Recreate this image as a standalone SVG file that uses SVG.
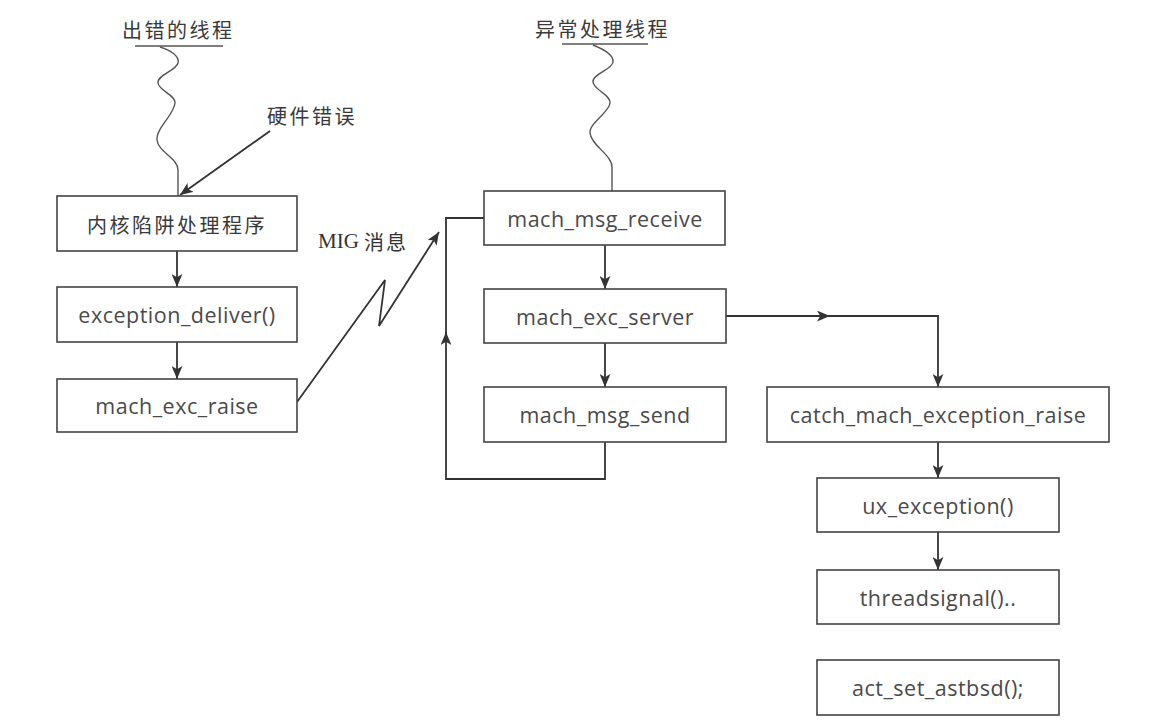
<svg xmlns="http://www.w3.org/2000/svg" width="1156" height="724" viewBox="0 0 1156 724">
<style>
.box{fill:#fff;stroke:#444;stroke-width:1.6}
.lbl{font-family:"Open Sans","Liberation Sans",sans-serif;font-size:21.5px;letter-spacing:0.5px;fill:#4a4a4a;text-anchor:middle;dominant-baseline:central}
.cjk{font-family:"Noto Sans CJK SC","Noto Sans",sans-serif;font-size:20px;fill:#3a3a3a;letter-spacing:2.5px;dominant-baseline:central}
.ln{fill:none;stroke:#333;stroke-width:1.8}
.wave{fill:none;stroke:#555;stroke-width:1.4}
</style>
<defs>
<marker id="ah" viewBox="0 0 12 10" refX="12" refY="5" markerWidth="13" markerHeight="11" markerUnits="userSpaceOnUse" orient="auto">
<path d="M0,0 L12,5 L0,10 L3,5 z" fill="#333"/>
</marker>
</defs>
<rect width="1156" height="724" fill="#fff"/>

<g id="title-left">
<text class="cjk" x="122" y="29">出错的线程</text>
<line x1="135" y1="46" x2="223" y2="46" stroke="#555" stroke-width="1.4"/>
</g>
<g id="title-right">
<text class="cjk" x="535" y="28">异常处理线程</text>
<line x1="562" y1="44" x2="648" y2="44" stroke="#555" stroke-width="1.4"/>
</g>
<g id="label-hw">
<text class="cjk" x="267" y="115">硬件错误</text>
</g>
<g id="label-mig">
<text x="318" y="241" font-family="Liberation Serif,serif" font-size="21" fill="#333" dominant-baseline="central">MIG <tspan font-family="Noto Sans CJK SC,sans-serif" font-size="20" letter-spacing="2">消息</tspan></text>
</g>

<g id="connectors">
<path class="wave" d="M160,47 C170,50 180,56 178,63 C176,71 157,75 158,83 C159,91 176,95 175,103 C174,115 156,128 157,140 C158,152 178,158 178,170 L178,196"/>
<path class="wave" d="M593,45 C603,49 614,55 613,62 C612,70 592,74 593,82 C594,90 611,95 610,103 C609,113 589,123 590,133 C591,145 612,155 612,167 L612,191"/>
<path class="ln" d="M270,131 L180,195" marker-end="url(#ah)"/>
<path class="ln" d="M177,251 L177,287" marker-end="url(#ah)"/>
<path class="ln" d="M177,342 L177,379" marker-end="url(#ah)"/>
<path class="ln" d="M297,402 L385,280 L379,326 L439,232" marker-end="url(#ah)"/>
<path class="ln" d="M605,245 L605,289" marker-end="url(#ah)"/>
<path class="ln" d="M605,343 L605,387" marker-end="url(#ah)"/>
<path class="ln" d="M605,442 L605,479 L446,479 L446,332" marker-end="url(#ah)"/>
<path class="ln" d="M446,336 L446,218 L484,218"/>
<path class="ln" d="M726,316 L830,316" marker-end="url(#ah)"/>
<path class="ln" d="M828,316 L938,316 L938,387" marker-end="url(#ah)"/>
<path class="ln" d="M938,442 L938,478" marker-end="url(#ah)"/>
<path class="ln" d="M938,532 L938,570" marker-end="url(#ah)"/>
</g>

<g id="n-trap"><rect class="box" x="57" y="196" width="240" height="55"/><text class="cjk" x="177" y="224" text-anchor="middle" letter-spacing="4">内核陷阱处理程序</text></g>
<g id="n-deliver"><rect class="box" x="57" y="287" width="240" height="55"/><text class="lbl" x="177" y="314">exception_deliver()</text></g>
<g id="n-raise"><rect class="box" x="57" y="379" width="240" height="53"/><text class="lbl" x="177" y="405">mach_exc_raise</text></g>
<g id="n-receive"><rect class="box" x="484" y="191" width="241" height="54"/><text class="lbl" x="605" y="218">mach_msg_receive</text></g>
<g id="n-server"><rect class="box" x="484" y="289" width="242" height="54"/><text class="lbl" x="605" y="316">mach_exc_server</text></g>
<g id="n-send"><rect class="box" x="484" y="387" width="242" height="55"/><text class="lbl" x="605" y="414">mach_msg_send</text></g>
<g id="n-catch"><rect class="box" x="767" y="387" width="342" height="55"/><text class="lbl" x="938" y="414">catch_mach_exception_raise</text></g>
<g id="n-ux"><rect class="box" x="817" y="478" width="242" height="54"/><text class="lbl" x="938" y="505">ux_exception()</text></g>
<g id="n-threadsignal"><rect class="box" x="817" y="570" width="242" height="54"/><text class="lbl" x="938" y="597">threadsignal()..</text></g>
<g id="n-astbsd"><rect class="box" x="817" y="660" width="242" height="55"/><text class="lbl" x="938" y="687">act_set_astbsd();</text></g>
</svg>
